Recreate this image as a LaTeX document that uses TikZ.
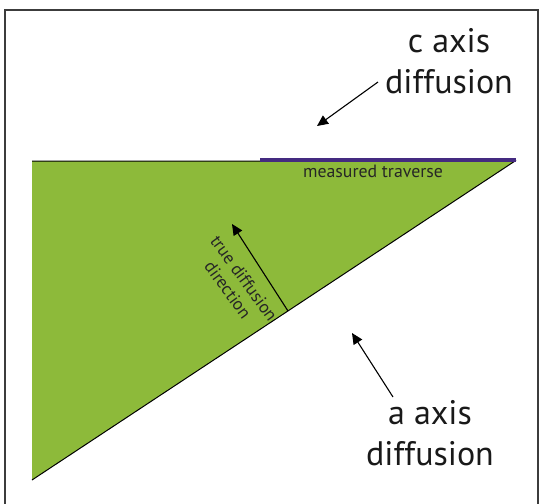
\documentclass[tikz,border=0pt]{standalone}
\usepackage{fontspec}
\setmainfont{PT Sans}
\usetikzlibrary{arrows.meta}
\definecolor{grain}{RGB}{141,186,58}
\definecolor{trav}{RGB}{68,42,128}
\definecolor{frame}{RGB}{60,60,60}
\tikzset{
  big/.style={font=\fontsize{34}{41}\selectfont, align=center, inner sep=0pt, text=black!90},
  arr/.style={-{Triangle[length=11pt,width=10pt]}, line width=1.1pt, black},
}
\begin{document}
\begin{tikzpicture}[x=1pt,y=-1pt]
\useasboundingbox (0,0) rectangle (547,504);
\begin{scope}
\clip (0,0) rectangle (547,504);
\draw[frame, line width=1.3pt] (5,10) rectangle (538,520);
\end{scope}
% triangle
\coordinate (tl) at (32,161);
\coordinate (tr) at (515,161);
\coordinate (bl) at (32,480);
\fill[grain] (tl) -- (tr) -- (bl) -- cycle;
\draw[line width=1pt] (tl) -- (tr) -- (bl);
\coordinate (ts) at (260,159.5);
\coordinate (te) at (516,159.5);
\draw[trav, line width=4pt] (ts) -- (te);
\node[font=\fontsize{17.8}{19}\selectfont, text=black!85, inner sep=0pt] (mt) at (373,171) {measured traverse};
% true diffusion arrow
\coordinate (db) at (288,311);
\coordinate (dt) at (232,224);
\draw[arr] (db) -- (dt);
\node[font=\fontsize{17.5}{20}\selectfont, align=center, rotate=-54, inner sep=0pt, text=black!85] (td) at (236,284) {true diffusion\\direction};
% c axis
\node[big] (c) at (449,61) {c axis\\diffusion};
\coordinate (cs) at (378,82);
\coordinate (ce) at (317,126);
\draw[arr] (cs) -- (ce);
% a axis
\node[big] (a) at (430,433) {a axis\\diffusion};
\coordinate (as) at (393,397);
\coordinate (ae) at (352,333);
\draw[arr] (as) -- (ae);
\end{tikzpicture}
\end{document}
